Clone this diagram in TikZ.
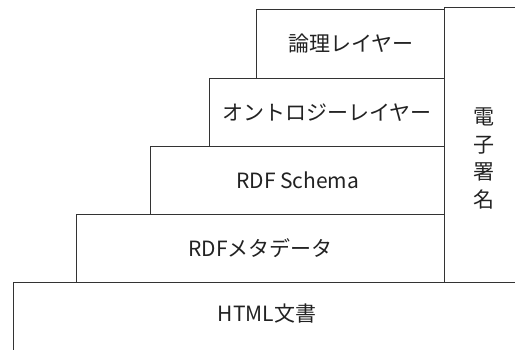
\documentclass[tikz,border=0pt]{standalone}
\usepackage{fontspec}
\setmainfont{Noto Sans CJK JP}
\definecolor{linegray}{HTML}{333333}
\definecolor{textgray}{HTML}{222222}
\tikzset{
  layer/.style={draw=linegray, line width=1.4pt, anchor=south west, inner sep=0pt,
    minimum height=68pt, text=textgray, font=\fontsize{21}{28}\selectfont},
  sigtext/.style={text=textgray, align=center, font=\fontsize{21}{27.5}\selectfont, inner sep=0pt}
}
\begin{document}
\begin{tikzpicture}[x=1pt,y=1pt]
\useasboundingbox (0,0) rectangle (515,349);
\clip (0,0) rectangle (515,349);
\node[layer, minimum width=511.5] (html) at (12.5,-2) {};
\node[textgray, font=\fontsize{21}{28}\selectfont] (htmltext) at (267,35) {HTML文書};
\node[layer, minimum width=368] (rdf) at (76,66) {RDFメタデータ};
\node[layer, minimum width=294] (schema) at (150,134) {RDF Schema};
\node[layer, minimum width=235] (onto) at (209,202) {オントロジーレイヤー};
\node[layer, minimum width=188, minimum height=69] (logic) at (256,270) {論理レイヤー};
\node[layer, minimum width=80, minimum height=275] (sig) at (444,66) {};
\node[sigtext] (sigt) at (484,190.5) {電\\子\\署\\名};
\end{tikzpicture}
\end{document}
